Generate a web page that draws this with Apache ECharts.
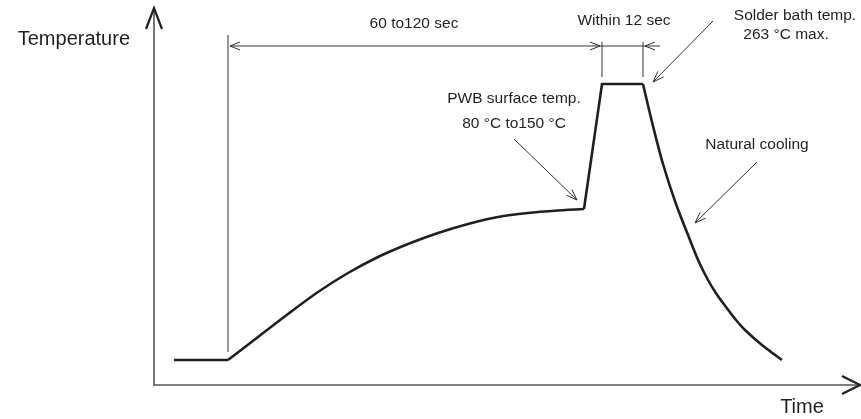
<!DOCTYPE html>
<html>
<head>
<meta charset="utf-8">
<script src="https://cdn.jsdelivr.net/npm/echarts@6/dist/echarts.min.js"></script>
<style>html,body{margin:0;padding:0;background:#fff}#c{width:861px;height:419px}</style>
</head>
<body>
<div id="c"></div>
<script>
// Arbitrary schematic units (time →, temperature ↑)
const preheatFlat = [[20,25],[74,25]];
const preheatRise = [[74,25],[104,48],[134,71],[164,93],[194,112],[224,128],[254,141],[284,152],[314,161],[344,168],[374,172],[404,174.5],[430,176]];
const solderSpike = [[430,176],[448,301],[489,301]];
const coolingCurve = [[489,301],[498.5,261],[509,221],[522,181],[536,145],[545,123],[554,105],[562.5,91],[572,78],[582,65],[591,55],[608,40],[628,25]];

// Dimension lines [x1,y1,x2,y2]
const dimSegments = [[74,33,74,350],[76,339,506,339],[448,308,448,343],[489,308,489,343]];
// Dimension arrow tips [x,y,dirX,dirY]
const dimArrowTips = [[76,339,-1,0],[446,339,1,0],[491,339,-1,0]];
// Leader arrows [fromX,fromY,toX,toY]
const leaders = [[360,246,423,185],[559,364,499,303],[603,223,541,162]];
// Annotation texts
const labelTexts = ['60 to120 sec','Within 12 sec','Solder bath temp.','263 °C max.','PWB surface temp.','80 °C to150 °C','Natural cooling'];
const labelPos = [[260,361],[470,364],[641,369],[632,350],[360,286],[360,261],[603,240]];
// Axis ends [x,y,axis]
const axisEnds = [[0,377,0],[706,0,1]];

const FONT = '"Liberation Sans", Arial, Helvetica, sans-serif';
const INK = '#231f20';
const THIN = '#333';

function vHead(tip, dx, dy, len, half) {
  const n = Math.hypot(dx, dy) || 1; dx /= n; dy /= n;
  const bx = tip[0] - dx * len, by = tip[1] - dy * len;
  const px = -dy, py = dx;
  return [[bx + px * half, by + py * half], tip, [bx - px * half, by - py * half]];
}

const chart = echarts.init(document.getElementById('c'), null, {renderer: 'canvas'});
chart.setOption({
  animation: false,
  backgroundColor: '#fff',
  grid: {left: 154, top: 8, width: 706, height: 377, containLabel: false, outerBoundsMode: 'none'},
  xAxis: {
    type: 'value', min: 0, max: 706,
    name: 'Time', nameLocation: 'end', nameGap: -58,
    nameTextStyle: {fontFamily: FONT, fontSize: 20, color: INK, align: 'center', verticalAlign: 'top', padding: [12,0,0,0]},
    axisLine: {show: true, lineStyle: {color: '#555', width: 1.6}},
    axisTick: {show: false}, axisLabel: {show: false}, splitLine: {show: false}
  },
  yAxis: {
    type: 'value', min: 0, max: 377,
    name: 'Temperature', nameLocation: 'end', nameGap: -31,
    nameTextStyle: {fontFamily: FONT, fontSize: 20, color: INK, align: 'right', verticalAlign: 'middle', padding: [0,24,0,0]},
    axisLine: {show: true, lineStyle: {color: '#555', width: 1.6}},
    axisTick: {show: false}, axisLabel: {show: false}, splitLine: {show: false}
  },
  series: [
    {type: 'line', data: preheatFlat, symbol: 'none', lineStyle: {color: INK, width: 2.6}, silent: true},
    {type: 'line', data: preheatRise, symbol: 'none', smooth: 0.3, lineStyle: {color: INK, width: 2.6}, silent: true},
    {type: 'line', data: solderSpike, symbol: 'none', lineStyle: {color: INK, width: 2.6, join: 'miter'}, silent: true},
    {type: 'line', data: coolingCurve, symbol: 'none', smooth: 0.3, lineStyle: {color: INK, width: 2.6}, silent: true},
    {
      type: 'custom', silent: true, data: dimSegments,
      renderItem: function (p, api) {
        const a = api.coord([api.value(0), api.value(1)]);
        const b = api.coord([api.value(2), api.value(3)]);
        return {type: 'polyline', shape: {points: [a, b]}, style: {stroke: THIN, lineWidth: 1, fill: null}};
      }
    },
    {
      type: 'custom', silent: true, data: dimArrowTips,
      renderItem: function (p, api) {
        const t = api.coord([api.value(0), api.value(1)]);
        const pts = vHead(t, api.value(2), -api.value(3), 10, 4);
        return {type: 'polyline', shape: {points: pts}, style: {stroke: THIN, lineWidth: 1, fill: null}};
      }
    },
    {
      type: 'custom', silent: true, data: leaders,
      renderItem: function (p, api) {
        const a = api.coord([api.value(0), api.value(1)]);
        const b = api.coord([api.value(2), api.value(3)]);
        const pts = vHead(b, b[0] - a[0], b[1] - a[1], 11, 4);
        return {type: 'group', children: [
          {type: 'polyline', shape: {points: [a, b]}, style: {stroke: THIN, lineWidth: 1, fill: null}},
          {type: 'polyline', shape: {points: pts}, style: {stroke: THIN, lineWidth: 1, fill: null}}
        ]};
      }
    },
    {
      type: 'custom', silent: true, data: labelPos.map((p, i) => [p[0], p[1], i]),
      renderItem: function (p, api) {
        const c = api.coord([api.value(0), api.value(1)]);
        return {type: 'text', x: c[0], y: c[1], style: {
          text: labelTexts[api.value(2)], fill: INK, fontFamily: FONT, fontSize: 15.5,
          align: 'center', verticalAlign: 'middle'}};
      }
    },
    {
      type: 'custom', silent: true, data: axisEnds,
      renderItem: function (p, api) {
        const t = api.coord([api.value(0), api.value(1)]);
        const isX = api.value(2) === 1;
        const pts = isX ? vHead(t, 1, 0, 18, 9) : vHead(t, 0, -1, 21, 8);
        return {type: 'polyline', shape: {points: pts}, style: {stroke: INK, lineWidth: 2.2, fill: null, lineJoin: 'miter'}};
      }
    }
  ]
});
</script>
</body>
</html>
